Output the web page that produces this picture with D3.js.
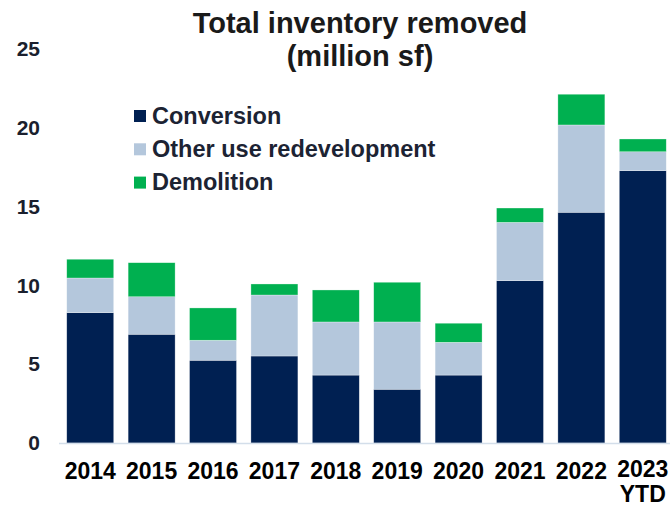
<!DOCTYPE html>
<html>
<head>
<meta charset="utf-8">
<script src="https://cdn.jsdelivr.net/npm/d3@7"></script>
<style>
  body { margin: 0; background: #fff; }
  svg { display: block; font-family: Arial, "Liberation Sans", sans-serif; font-weight: bold; }
</style>
</head>
<body>
<div id="chart"></div>
<script>
// data (million sf)
var years = ["2014", "2015", "2016", "2017", "2018", "2019", "2020", "2021", "2022", "2023\nYTD"];
var conversion = [8.27, 6.9, 5.25, 5.52, 4.31, 3.41, 4.31, 10.3, 14.64, 17.28];
var otherUse = [2.2, 2.38, 1.27, 3.87, 3.37, 4.27, 2.08, 3.7, 5.54, 1.2];
var demolition = [1.19, 2.16, 2.05, 0.7, 2.03, 2.52, 1.21, 0.91, 1.95, 0.81];
var seriesNames = ["Conversion", "Other use redevelopment", "Demolition"];
var yTicks = [0, 5, 10, 15, 20, 25];

var colors = ["#002052", "#b4c7dc", "#00b050"];

var width = 670, height = 506;

var svg = d3.select("#chart")
    .append("svg")
        .attr("width", width)
        .attr("height", height);

// build table for stack
var table = years.map(function(y, i) {
    return {year: y, "Conversion": conversion[i], "Other use redevelopment": otherUse[i], "Demolition": demolition[i]};
});
var stacked = d3.stack().keys(seriesNames)(table);

//scales
var x = d3.scaleBand()
    .domain(years)
    .range([59.5, 673.5])
    .paddingInner(0.235)
    .paddingOuter(0.118);

var y = d3.scaleLinear()
    .domain([0, 25])
    .range([443, 49]);

//y axis labels
var yAxis = svg.append("g")
    .attr("transform", "translate(40,0)")
    .call(d3.axisLeft(y).tickValues(yTicks).tickSize(0).tickPadding(0));
yAxis.select(".domain").remove();
yAxis.selectAll("text")
    .attr("font-size", "21px")
    .attr("font-family", "Arial, 'Liberation Sans', sans-serif")
    .attr("font-weight", "bold")
    .attr("fill", "#1a1f2e");

//bars
svg.append("g")
    .selectAll("g")
    .data(stacked)
    .join("g")
        .attr("fill", function(d, i) { return colors[i]; })
    .selectAll("rect")
    .data(function(d) { return d; })
    .join("rect")
        .attr("x", function(d) { return x(d.data.year); })
        .attr("y", function(d) { return y(d[1]); })
        .attr("width", x.bandwidth())
        .attr("height", function(d) { return y(d[0]) - y(d[1]); })
        .attr("stroke", "#ffffff")
        .attr("stroke-opacity", 0.5)
        .attr("stroke-width", 0.6);

//baseline
svg.append("line")
    .attr("x1", 59)
    .attr("x2", width)
    .attr("y1", y(0) + 0.5)
    .attr("y2", y(0) + 0.5)
    .attr("stroke", "#d3deea")
    .attr("stroke-width", 1.6);

//x labels
var xlab = svg.append("g")
    .selectAll("text")
    .data(years)
    .join("text")
        .attr("text-anchor", "middle")
        .attr("font-size", "23px")
        .attr("fill", "#000")
        .attr("x", function(d) { return x(d) + x.bandwidth() / 2; })
        .attr("y", function(d) { return d.indexOf("\n") >= 0 ? 477 : 479; });
xlab.selectAll("tspan")
    .data(function(d) { return d.split("\n"); })
    .join("tspan")
        .attr("x", function() { var p = d3.select(this.parentNode).datum(); return x(p) + x.bandwidth() / 2; })
        .attr("dy", function(d, i) { return i === 0 ? 0 : 24.5; })
        .text(function(d) { return d; });

//title
svg.append("text")
    .attr("x", 360)
    .attr("y", 33)
    .attr("text-anchor", "middle")
    .attr("font-size", "29px")
    .attr("fill", "#1a1a1a")
    .text("Total inventory removed");
svg.append("text")
    .attr("x", 360)
    .attr("y", 66)
    .attr("text-anchor", "middle")
    .attr("font-size", "29px")
    .attr("fill", "#1a1a1a")
    .text("(million sf)");

//legend
var legend = svg.append("g")
    .attr("transform", "translate(134,110)");
var items = legend.selectAll("g")
    .data(seriesNames)
    .join("g")
        .attr("transform", function(d, i) { return "translate(0," + (i * 33.3) + ")"; });
items.append("rect")
    .attr("width", 12)
    .attr("height", 12)
    .attr("fill", function(d, i) { return colors[i]; });
items.append("text")
    .attr("x", 18)
    .attr("y", 13.5)
    .attr("font-size", "23.5px")
    .attr("fill", "#1c2333")
    .text(function(d) { return d; });
</script>
</body>
</html>
